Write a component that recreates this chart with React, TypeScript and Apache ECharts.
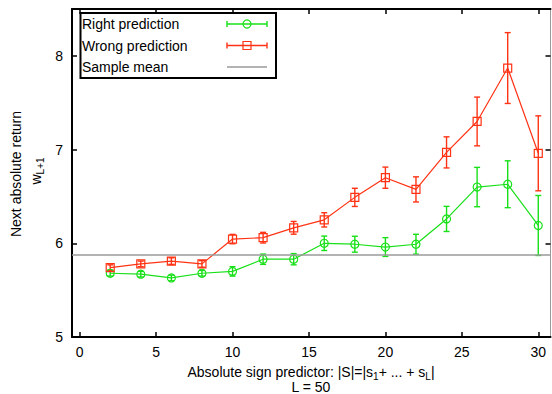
import React, { useEffect, useRef } from 'react';
import * as echarts from 'echarts';

// Absolute sign predictor values on the x axis
const predictorValues = [2, 4, 6, 8, 10, 12, 14, 16, 18, 20, 22, 24, 26, 28, 30];

// Mean next absolute return when the sign prediction was right, and its error
const rightMean = [5.68, 5.67, 5.63, 5.68, 5.7, 5.83, 5.83, 6.0, 5.99, 5.96, 5.99, 6.26, 6.6, 6.63, 6.19];
const rightErr = [0.03, 0.03, 0.03, 0.03, 0.05, 0.055, 0.06, 0.077, 0.085, 0.1, 0.106, 0.134, 0.21, 0.25, 0.32];

// Mean next absolute return when the sign prediction was wrong, and its error
const wrongMean = [5.74, 5.78, 5.81, 5.78, 6.045, 6.06, 6.165, 6.25, 6.49, 6.7, 6.575, 6.97, 7.3, 7.87, 6.96];
const wrongErr = [0.03, 0.03, 0.035, 0.035, 0.05, 0.057, 0.068, 0.076, 0.097, 0.113, 0.134, 0.166, 0.26, 0.378, 0.4];

const sampleMean = 5.875;

const xTicks = [0, 5, 10, 15, 20, 25, 30];
const yTicks = [5, 6, 7, 8];

const GREEN = '#18e018';
const RED = '#ff3314';
const GREY = '#9a9a9a';
const FONT = '"Liberation Sans", Arial, Helvetica, sans-serif';

function errorBarSeries(means: number[], errs: number[], color: string) {
  return {
    type: 'custom',
    xAxisIndex: 0,
    yAxisIndex: 0,
    silent: true,
    z: 3,
    encode: { x: 0, y: 1 },
    data: predictorValues.map((x, i) => [x, means[i], errs[i]]),
    renderItem: (_params: any, api: any) => {
      const x = api.value(0);
      const y = api.value(1);
      const e = api.value(2);
      const top = api.coord([x, y + e]);
      const bot = api.coord([x, y - e]);
      const hw = 3;
      const style = { stroke: color, lineWidth: 1.4 };
      return {
        type: 'group',
        children: [
          { type: 'line', shape: { x1: top[0], y1: top[1], x2: bot[0], y2: bot[1] }, style },
          { type: 'line', shape: { x1: top[0] - hw, y1: top[1], x2: top[0] + hw, y2: top[1] }, style },
          { type: 'line', shape: { x1: bot[0] - hw, y1: bot[1], x2: bot[0] + hw, y2: bot[1] }, style },
        ],
      };
    },
  };
}

function meanSeries(name: string, means: number[], color: string, symbol: string) {
  return {
    name,
    type: 'line',
    xAxisIndex: 0,
    yAxisIndex: 0,
    z: 4,
    symbol,
    symbolSize: 8,
    showSymbol: true,
    itemStyle: { color: 'rgba(0,0,0,0)', borderColor: color, borderWidth: 1.2 },
    lineStyle: { color, width: 1.2 },
    data: predictorValues.map((x, i) => [x, means[i]]),
  };
}

function legendRow(y: number, label: string, color: string, marker: 'circle' | 'rect' | null) {
  const x1 = 227;
  const x2 = 267;
  const cx = 247;
  const children: any[] = [
    {
      type: 'text',
      x: 82,
      y,
      style: { text: label, fontSize: 14, fontFamily: FONT, fill: '#000', align: 'left', verticalAlign: 'middle' },
    },
    {
      type: 'line',
      shape: { x1, y1: y, x2, y2: y },
      style: { stroke: color, lineWidth: marker ? 1.4 : 1.5 },
    },
  ];
  if (marker) {
    children.push(
      { type: 'line', shape: { x1, y1: y - 3, x2: x1, y2: y + 3 }, style: { stroke: color, lineWidth: 1.4 } },
      { type: 'line', shape: { x1: x2, y1: y - 3, x2, y2: y + 3 }, style: { stroke: color, lineWidth: 1.4 } }
    );
    if (marker === 'circle') {
      children.push({ type: 'circle', shape: { cx, cy: y, r: 4 }, style: { fill: 'none', stroke: color, lineWidth: 1.2 } });
    } else {
      children.push({ type: 'rect', shape: { x: cx - 4, y: y - 4, width: 8, height: 8 }, style: { fill: 'none', stroke: color, lineWidth: 1.2 } });
    }
  }
  return children;
}

export default function App() {
  const ref = useRef<HTMLDivElement>(null);

  useEffect(() => {
    if (!ref.current) return;
    const chart = echarts.init(ref.current, undefined, { renderer: 'svg' });

    const baseX = {
      type: 'value',
      min: -0.5,
      max: 30.8,
      splitLine: { show: false },
    };
    const baseY = {
      type: 'value',
      min: 5,
      max: 8.5,
      splitLine: { show: false },
    };

    chart.setOption({
      animation: false,
      backgroundColor: '#fff',
      textStyle: { fontFamily: FONT },
      grid: { left: 72, right: 1.5, top: 9, bottom: 57 },
      xAxis: [
        {
          ...baseX,
          position: 'bottom',
          axisLine: { show: true, onZero: false, lineStyle: { color: '#000', width: 2 } },
          axisTick: { show: true, inside: true, length: 5, customValues: xTicks, lineStyle: { color: '#000', width: 1.5 } },
          axisLabel: { show: true, customValues: xTicks, margin: 8, fontSize: 14, color: '#000', fontFamily: FONT },
        },
        {
          ...baseX,
          position: 'top',
          axisLine: { show: true, onZero: false, lineStyle: { color: '#000', width: 2 } },
          axisTick: { show: true, inside: true, length: 5, customValues: xTicks, lineStyle: { color: '#000', width: 1.5 } },
          axisLabel: { show: false },
        },
      ],
      yAxis: [
        {
          ...baseY,
          position: 'left',
          axisLine: { show: true, onZero: false, lineStyle: { color: '#000', width: 2 } },
          axisTick: { show: true, inside: true, length: 5, customValues: yTicks, lineStyle: { color: '#000', width: 1.5 } },
          axisLabel: { show: true, customValues: yTicks, margin: 9, fontSize: 14, color: '#000', fontFamily: FONT },
        },
        {
          ...baseY,
          position: 'right',
          axisLine: { show: true, onZero: false, lineStyle: { color: GREY, width: 1 } },
          axisTick: { show: true, inside: true, length: 5, customValues: yTicks, lineStyle: { color: '#000', width: 1.5 } },
          axisLabel: { show: false },
        },
      ],
      series: [
        {
          type: 'line',
          xAxisIndex: 0,
          yAxisIndex: 0,
          data: [],
          z: 1,
          markLine: {
            silent: true,
            symbol: ['none', 'none'],
            label: { show: false },
            lineStyle: { color: GREY, width: 1.5, type: 'solid' },
            data: [{ yAxis: sampleMean }],
          },
        },
        errorBarSeries(rightMean, rightErr, GREEN),
        meanSeries('Right prediction', rightMean, GREEN, 'circle'),
        errorBarSeries(wrongMean, wrongErr, RED),
        meanSeries('Wrong prediction', wrongMean, RED, 'rect'),
      ],
      graphic: [
        {
          type: 'group',
          z: 100,
          children: [
            {
              type: 'rect',
              shape: { x: 80.5, y: 13, width: 195.5, height: 65 },
              style: { fill: '#fff', stroke: '#000', lineWidth: 2 },
            },
            ...legendRow(24, 'Right prediction', GREEN, 'circle'),
            ...legendRow(45.5, 'Wrong prediction', RED, 'rect'),
            ...legendRow(67, 'Sample mean', GREY, null),
          ],
        },
        {
          type: 'text',
          x: 311,
          y: 372,
          z: 100,
          style: {
            text: 'Absolute sign predictor: |S|=|s{sub|1}+ ... + s{sub|L}|',
            fontSize: 14,
            lineHeight: 18,
            fontFamily: FONT,
            fill: '#000',
            align: 'center',
            verticalAlign: 'middle',
            rich: { sub: { fontSize: 10, lineHeight: 10, verticalAlign: 'bottom', fontFamily: FONT, fill: '#000' } },
          },
        },
        {
          type: 'text',
          x: 311,
          y: 387,
          z: 100,
          style: { text: 'L = 50', fontSize: 14, fontFamily: FONT, fill: '#000', align: 'center', verticalAlign: 'middle' },
        },
        {
          type: 'text',
          x: 16,
          y: 174,
          rotation: Math.PI / 2,
          z: 100,
          style: { text: 'Next absolute return', fontSize: 14, fontFamily: FONT, fill: '#000', align: 'center', verticalAlign: 'middle' },
        },
        {
          type: 'text',
          x: 36,
          y: 171,
          rotation: Math.PI / 2,
          z: 100,
          style: {
            text: 'w{sub|L+1}',
            fontSize: 14,
            lineHeight: 18,
            fontFamily: FONT,
            fill: '#000',
            align: 'center',
            verticalAlign: 'middle',
            rich: { sub: { fontSize: 10, lineHeight: 10, verticalAlign: 'bottom', fontFamily: FONT, fill: '#000' } },
          },
        },
      ],
    });

    return () => chart.dispose();
  }, []);

  return (
    <div
      ref={ref}
      style={{ position: 'absolute', left: 0, top: 0, width: 552, height: 394, background: '#fff' }}
    />
  );
}
